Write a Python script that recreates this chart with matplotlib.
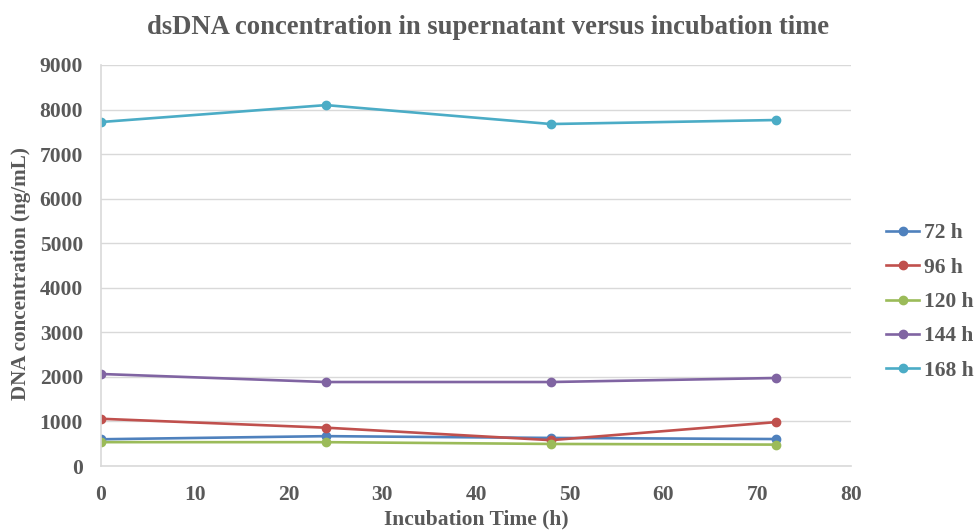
import matplotlib.pyplot as plt

# incubation time points (h)
time_h = [0, 24, 48, 72]

labels = ['72 h', '96 h', '120 h', '144 h', '168 h']
conc_72 = [600, 670, 630, 605]
conc_96 = [1060, 860, 580, 985]
conc_120 = [535, 535, 495, 480]
conc_144 = [2065, 1885, 1885, 1975]
conc_168 = [7720, 8100, 7675, 7765]

colors = ['#4F81BD', '#C0504D', '#9BBB59', '#8064A2', '#4BACC6']
series = [conc_72, conc_96, conc_120, conc_144, conc_168]

plt.rcParams['font.family'] = ['Liberation Serif', 'DejaVu Serif']
plt.rcParams['font.weight'] = 'bold'
plt.rcParams['axes.labelweight'] = 'bold'
text_color = '#595959'

fig = plt.figure(figsize=(9.77, 5.32), dpi=100)
ax = fig.add_axes([101 / 977, 1 - 466 / 532, 750 / 977, 401 / 532])

for vals, lab, c in zip(series, labels, colors):
    ax.plot(time_h, vals, color=c, lw=1.9, marker='o', markersize=6, label=lab)

ax.set_xlim(0, 80)
ax.set_ylim(0, 9000)
ax.set_xticks(range(0, 81, 10))
ax.set_yticks(range(0, 9001, 1000))
ax.grid(axis='y', color='#D9D9D9', lw=1)
ax.set_axisbelow(True)
for side in ['top', 'right']:
    ax.spines[side].set_visible(False)
for side in ['left', 'bottom']:
    ax.spines[side].set_color('#D9D9D9')
    ax.spines[side].set_linewidth(1.2)
ax.tick_params(length=0, labelsize=15.5, labelcolor=text_color)
ax.tick_params(axis='y', pad=13)
ax.tick_params(axis='x', pad=14)

ax.set_xlabel('Incubation Time (h)', fontsize=15.5, color=text_color, labelpad=3)
ax.set_ylabel('DNA concentration (ng/mL)', fontsize=15.2, color=text_color, va='center')
ax.yaxis.set_label_coords(-0.107, 0.48)
fig.text(488 / 977, 1 - 28 / 532, 'dsDNA concentration in supernatant versus incubation time',
         ha='center', va='center', fontsize=19.2, fontweight='bold', color=text_color)

leg = fig.legend(loc='center left', bbox_to_anchor=(886 / 977, 1 - 302 / 532), frameon=False,
                 fontsize=15.5, handlelength=1.55, handletextpad=0.2, labelspacing=0.66,
                 borderpad=0, borderaxespad=0)
for t in leg.get_texts():
    t.set_color(text_color)

fig.savefig('out.png', dpi=100)
